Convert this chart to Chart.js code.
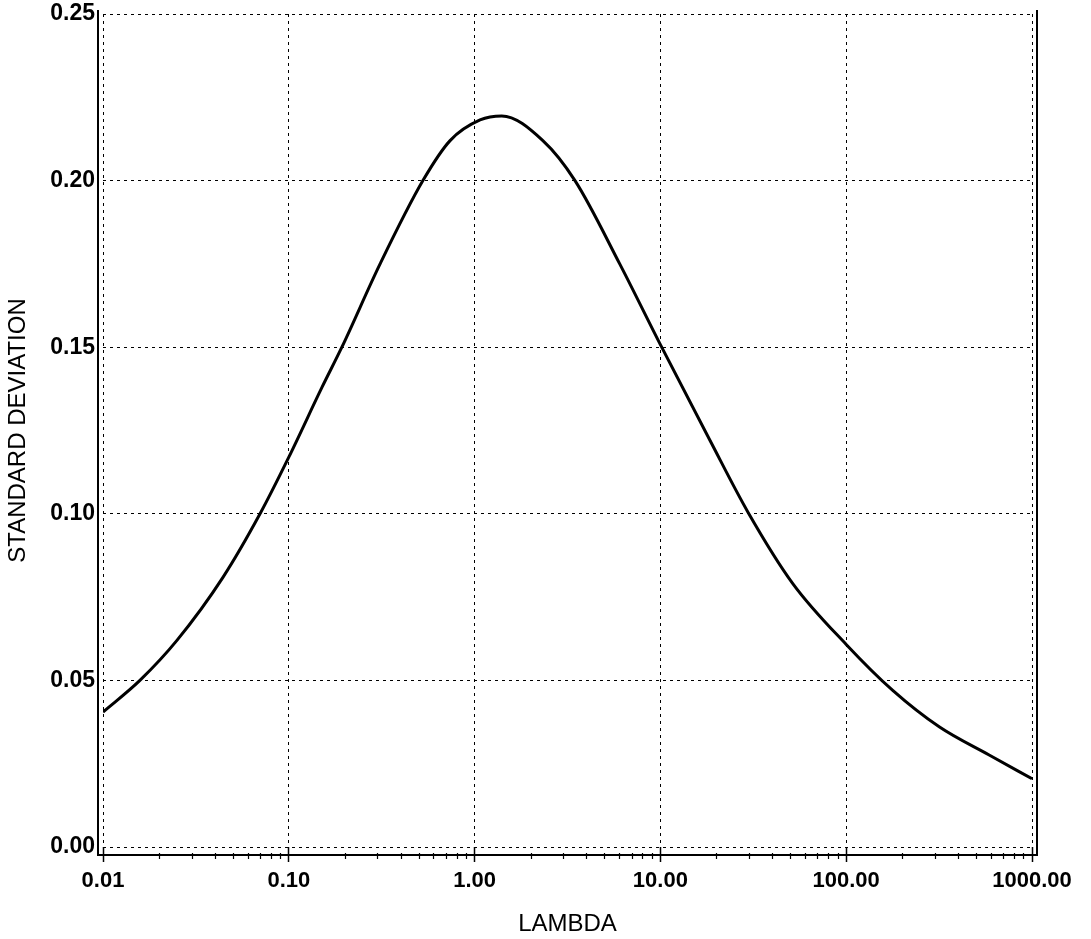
<!DOCTYPE html>
<html>
<head>
<meta charset="utf-8">
<script src="https://cdn.jsdelivr.net/npm/chart.js@4"></script>
<style>
  html, body { margin: 0; padding: 0; background: #fff; }
  #wrap { width: 1091px; height: 939px; }
</style>
</head>
<body>
<div id="wrap"><canvas id="sdchart" width="1091" height="939"></canvas></div>
<script>
const lambdaValues = [
  0.01, 0.0158, 0.025, 0.0443, 0.07, 0.1, 0.151, 0.193, 0.31, 0.527,
  0.738, 1.07, 1.4, 2.33, 3.47, 6.04, 9.95, 18.5, 29.6, 51.7,
  100, 178, 318, 588, 1000,
];
const stdDevValues = [
  0.0405, 0.05, 0.062, 0.081, 0.1, 0.117, 0.138, 0.15, 0.175, 0.2,
  0.212, 0.2182, 0.2194, 0.212, 0.2, 0.175, 0.151, 0.122, 0.1005, 0.079,
  0.0608, 0.047, 0.036, 0.0276, 0.0205,
];
const xTickValues = [0.01, 0.1, 1, 10, 100, 1000];
const xTickLabels = ["0.01", "0.10", "1.00", "10.00", "100.00", "1000.00"];
const yTickLabels = ["0.00", "0.05", "0.10", "0.15", "0.20", "0.25"];

// minor ticks between the decades (2..9 of each decade)
const xMinorValues = [];
for (let d = 0; d < xTickValues.length - 1; d++) {
  for (let m = 2; m <= 9; m++) {
    xMinorValues.push(+(xTickValues[d] * m).toPrecision(6));
  }
}

const points = lambdaValues.map((x, i) => ({ x: x, y: stdDevValues[i] }));

function isDecade(v) {
  const l = Math.log10(v);
  return Math.abs(l - Math.round(l)) < 1e-9;
}

// solid frame just outside the dotted edge grid lines, plus short minor ticks
const framePlugin = {
  id: "frame",
  afterDraw(chart) {
    const { ctx, chartArea: a } = chart;
    const xs = chart.scales.x;
    const base = a.bottom + 8;
    ctx.save();
    ctx.strokeStyle = "#000";
    ctx.lineWidth = 2;
    ctx.beginPath();
    ctx.moveTo(a.left - 5, a.top - 4);
    ctx.lineTo(a.left - 5, base);
    ctx.lineTo(a.right + 5, base);
    ctx.lineTo(a.right + 5, a.top - 4);
    ctx.stroke();
    ctx.lineWidth = 1.2;
    ctx.beginPath();
    xMinorValues.forEach((v) => {
      const px = Math.round(xs.getPixelForValue(v)) + 0.5;
      ctx.moveTo(px, base - 2);
      ctx.lineTo(px, base + 4);
    });
    ctx.stroke();
    ctx.restore();
  },
};

const ctx = document.getElementById("sdchart").getContext("2d");

new Chart(ctx, {
  type: "line",
  data: {
    datasets: [
      {
        data: points,
        borderColor: "#000",
        borderWidth: 3,
        pointRadius: 0,
        fill: false,
        cubicInterpolationMode: "monotone",
      },
    ],
  },
  options: {
    responsive: false,
    animation: false,
    layout: { padding: { top: 14, right: 59, bottom: 0, left: 0 } },
    plugins: { legend: { display: false }, tooltip: { enabled: false } },
    scales: {
      x: {
        type: "logarithmic",
        min: 0.01,
        max: 1000,
        afterBuildTicks: (scale) => {
          scale.ticks = xTickValues.concat(xMinorValues)
            .sort((a, b) => a - b)
            .map((v) => ({ value: v }));
        },
        afterFit: (scale) => { scale.height = 92; },
        ticks: {
          autoSkip: false,
          maxRotation: 0,
          padding: 6,
          color: "#000",
          font: { family: "Liberation Sans", size: 22, weight: "bold" },
          callback: (v) => {
            const i = xTickValues.findIndex((t) => Math.abs(t - v) < 1e-9);
            return i >= 0 ? xTickLabels[i] : "";
          },
        },
        grid: {
          color: (c) => (c.tick && isDecade(c.tick.value) ? "#000" : "rgba(0,0,0,0)"),
          tickColor: (c) => (c.tick && isDecade(c.tick.value) ? "#000" : "rgba(0,0,0,0)"),
          lineWidth: 1,
          tickLength: 15,
          tickWidth: 1.5,
        },
        border: { display: false, dash: [3, 4] },
        title: {
          display: true,
          text: "LAMBDA",
          color: "#000",
          font: { family: "Liberation Sans", size: 24 },
          padding: { top: 0, bottom: 0 },
        },
      },
      y: {
        min: 0,
        max: 0.25,
        afterFit: (scale) => {
          scale.width = 103;
          scale.paddingTop = 0;
          scale.paddingBottom = 0;
        },
        ticks: {
          stepSize: 0.05,
          padding: 8,
          color: "#000",
          font: { family: "Liberation Sans", size: 23, weight: "bold" },
          callback: (v) => yTickLabels[Math.round(v / 0.05)],
        },
        grid: { color: "#000", lineWidth: 1, drawTicks: false },
        border: { display: false, dash: [3, 4] },
        title: {
          display: true,
          text: "STANDARD DEVIATION",
          color: "#000",
          font: { family: "Liberation Sans", size: 24 },
          padding: { top: 4, bottom: 0 },
        },
      },
    },
  },
  plugins: [framePlugin],
});
</script>
</body>
</html>
